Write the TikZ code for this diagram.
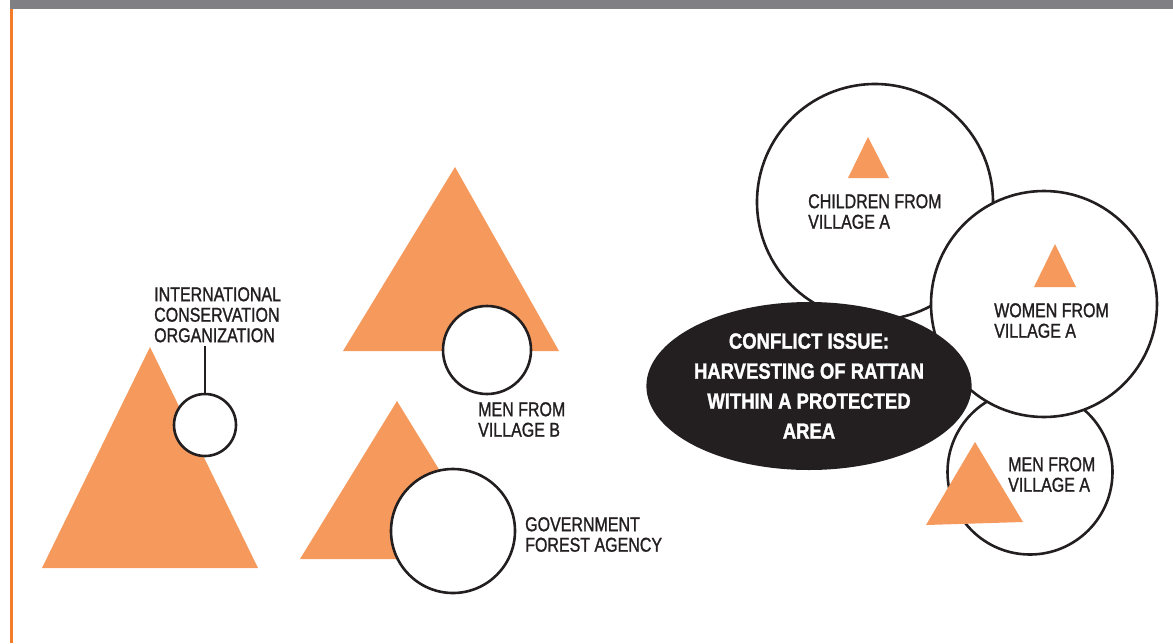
\documentclass[tikz,border=0pt]{standalone}
\usepackage{fontspec}
\setmainfont{Liberation Sans}[FakeStretch=0.8,FakeBold=1.2]
\newfontfamily\titlefont{Liberation Sans Bold}[FakeStretch=0.84,FakeBold=1.5]
\usetikzlibrary{shapes.geometric}
\definecolor{ink}{HTML}{231F20}
\definecolor{tri}{HTML}{F59A5C}
\definecolor{bar}{HTML}{808084}
\definecolor{edge}{HTML}{F47B28}
\begin{document}
\begin{tikzpicture}[x=1pt,y=-1pt,
  ring/.style={circle,draw=ink,line width=2.6pt,fill=white,inner sep=0pt},
  tri/.style={fill=tri},
  lbl/.style={anchor=north west,align=left,inner sep=0pt,text=ink,
    font=\fontsize{20}{20.5}\selectfont}]
\useasboundingbox (0,0) rectangle (1173,643);
\fill[bar] (10,0) rectangle (1173,9);
\fill[edge] (10,9) rectangle (12.5,643);

% International Conservation Organization
\fill[tri] (150,347) -- (258,568) -- (42,568) -- cycle;
\node[ring,minimum size=62pt] (ico) at (205,425) {};
\coordinate (icoend) at (205,346);
\draw[ink,line width=2.6pt] (ico.north) -- (icoend);
\node[lbl] (icolbl) at (154,287) {INTERNATIONAL\\CONSERVATION\\ORGANIZATION};

% Men from village B
\fill[tri] (455,167) -- (559,351) -- (343,351) -- cycle;
\node[ring,minimum size=88pt] (menb) at (487,350) {};
\node[lbl] (menblbl) at (478,402) {MEN FROM\\VILLAGE B};

% Government forest agency
\fill[tri] (397,401) -- (494,559) -- (300,559) -- cycle;
\node[ring,minimum size=124pt] (gov) at (453,531) {};
\node[lbl] (govlbl) at (525,517) {GOVERNMENT\\FOREST AGENCY};

% Children from village A
\node[ring,minimum size=236pt] (child) at (875,202) {};
\fill[tri] (868,137) -- (889,178) -- (848,178) -- cycle;
\node[lbl] (childlbl) at (808,194) {CHILDREN FROM\\VILLAGE A};

% Men from village A
\node[ring,minimum size=165pt] (mena) at (1030,472) {};
\fill[tri] (975,442) -- (1023,522) -- (926,525) -- cycle;
\node[lbl] (menalbl) at (1008,457) {MEN FROM\\VILLAGE A};

% Women from village A
\node[ring,minimum size=226pt] (women) at (1044,304) {};
\fill[tri] (1055,244) -- (1076,287) -- (1034,287) -- cycle;
\node[lbl] (womenlbl) at (994,303) {WOMEN FROM\\VILLAGE A};

% Conflict issue
\node[ellipse,fill=ink,inner sep=0pt,minimum width=322pt,minimum height=168pt,
  text=white,align=center,font=\titlefont\fontsize{22}{30}\selectfont]
  (issue) at (809,386) {CONFLICT ISSUE:\\HARVESTING OF RATTAN\\WITHIN A PROTECTED\\AREA};
\end{tikzpicture}
\end{document}
